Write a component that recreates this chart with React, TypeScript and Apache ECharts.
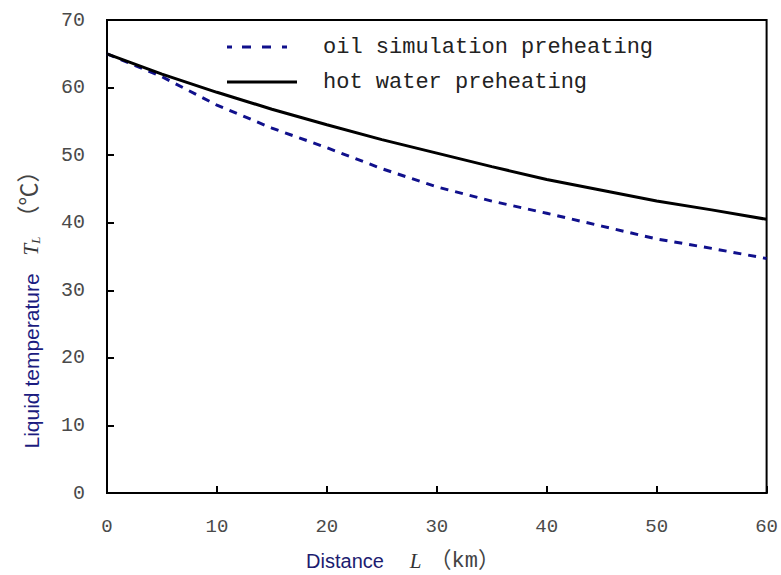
import React, { useEffect, useRef } from "react";
import * as echarts from "echarts";

const distanceKm = [0, 5, 10, 15, 20, 25, 30, 35, 40, 45, 50, 55, 60];
const oilSimulation = [65, 61.6, 57.4, 54.0, 51.1, 48.0, 45.3, 43.2, 41.4, 39.5, 37.6, 36.2, 34.7];
const hotWater = [65, 62.0, 59.3, 56.8, 54.5, 52.3, 50.3, 48.3, 46.4, 44.8, 43.2, 41.9, 40.5];
const seriesNames = ["oil simulation preheating", "hot water preheating"];
const xTicks = { min: 0, max: 60, interval: 10 };
const yTicks = { min: 0, max: 70, interval: 10 };

const dashedIcon =
  "path://M0,0M70,20M0,8.5h5v3h-5zM15,8.5h9v3h-9zM35,8.5h9v3h-9zM55,8.5h5v3h-5z";
const solidIcon = "path://M0,0M70,20M0,8.5h70v3h-70z";

export default function App() {
  const ref = useRef<HTMLDivElement>(null);
  useEffect(() => {
    if (!ref.current) return;
    const chart = echarts.init(ref.current, undefined, { renderer: "svg" });
    const pair = (ys: number[]) => distanceKm.map((x, i) => [x, ys[i]]);
    chart.setOption({
      animation: false,
      backgroundColor: "#fff",
      grid: {
        left: 107,
        right: 12,
        top: 20,
        bottom: 82,
        show: true,
        borderColor: "#000",
        borderWidth: 2,
        backgroundColor: "transparent",
      },
      legend: {
        orient: "vertical",
        left: 222,
        top: 31,
        itemWidth: 70,
        itemHeight: 20,
        itemGap: 13,
        data: [
          { name: seriesNames[0], icon: dashedIcon },
          { name: seriesNames[1], icon: solidIcon },
        ],
        textStyle: {
          fontFamily: "Liberation Mono",
          fontSize: 22,
          color: "#222",
          padding: [0, 0, 0, 21],
        },
      },
      xAxis: {
        type: "value",
        ...xTicks,
        axisLine: { show: true, lineStyle: { color: "#000", width: 2 } },
        axisTick: { show: true, inside: true, length: 7, lineStyle: { color: "#000", width: 2 } },
        splitLine: { show: false },
        axisLabel: {
          margin: 24,
          fontFamily: "Liberation Mono",
          fontSize: 19,
          color: "#4a4a4a",
        },
      },
      yAxis: {
        type: "value",
        ...yTicks,
        axisLine: { show: true, lineStyle: { color: "#000", width: 2 } },
        axisTick: { show: true, inside: true, length: 7, lineStyle: { color: "#000", width: 2 } },
        splitLine: { show: false },
        axisLabel: {
          margin: 22,
          fontFamily: "Liberation Mono",
          fontSize: 20,
          color: "#4a4a4a",
        },
      },
      graphic: [
        {
          type: "text",
          x: 403,
          y: 561,
          style: {
            text: "{a|Distance}{b|L}{c|（km）}",
            align: "center",
            verticalAlign: "middle",
            rich: {
              a: { fontFamily: "Liberation Sans", fontSize: 20, fill: "#1c1c70", padding: [0, 26, 0, 0] },
              b: { fontFamily: "Liberation Serif", fontStyle: "italic", fontSize: 21, fill: "#333", padding: [0, 8, 0, 0] },
              c: { fontFamily: "Liberation Mono, Noto Sans CJK SC", fontSize: 22, fill: "#444" },
            },
          },
        },
        {
          type: "text",
          x: 31,
          y: 304,
          rotation: Math.PI / 2,
          style: {
            text: "{a|Liquid temperature}{b|T}{s|L}{c|（℃）}",
            align: "center",
            verticalAlign: "middle",
            rich: {
              a: { fontFamily: "Liberation Sans", fontSize: 21, fill: "#1c1c80", padding: [0, 18, 0, 0] },
              b: { fontFamily: "Liberation Serif", fontStyle: "italic", fontSize: 21, fill: "#333" },
              s: { fontFamily: "Liberation Serif", fontStyle: "italic", fontSize: 13, fill: "#333", padding: [8, 8, 0, 0] },
              c: { fontFamily: "Liberation Mono, Noto Sans CJK SC", fontSize: 23, fill: "#444" },
            },
          },
        },
      ],
      series: [
        {
          name: seriesNames[0],
          type: "line",
          data: pair(oilSimulation),
          showSymbol: false,
          symbol: "none",
          lineStyle: { color: "#10108c", width: 3, type: [8, 7] },
          itemStyle: { color: "#10108c" },
        },
        {
          name: seriesNames[1],
          type: "line",
          data: pair(hotWater),
          showSymbol: false,
          symbol: "none",
          lineStyle: { color: "#000", width: 3 },
          itemStyle: { color: "#000" },
        },
      ],
    });
    return () => chart.dispose();
  }, []);
  return (
    <div
      ref={ref}
      style={{ position: "fixed", left: 0, top: 0, width: 781, height: 575 }}
    />
  );
}
